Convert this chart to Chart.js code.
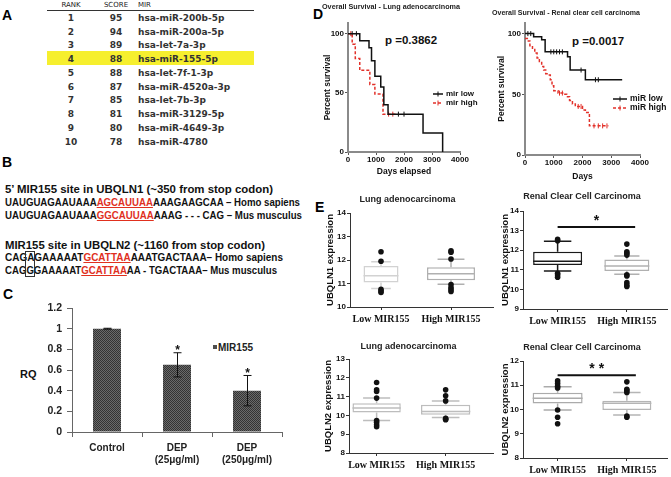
<!DOCTYPE html>
<html><head><meta charset="utf-8">
<script src="https://cdn.jsdelivr.net/npm/chart.js@4.4.1/dist/chart.umd.min.js"></script>
<style>
html,body{margin:0;padding:0;background:#fff;}
body{width:671px;height:477px;position:relative;overflow:hidden;font-family:'Liberation Sans',Arial,sans-serif;}
.abs{position:absolute;white-space:nowrap;line-height:1;}
canvas{position:absolute;}
.lab{position:absolute;font:bold 14px 'Liberation Sans',Arial,sans-serif;color:#000;line-height:1;}
.tb{position:absolute;font:bold 9px 'DejaVu Sans',Verdana,sans-serif;color:#333;white-space:nowrap;line-height:1;}
.th{position:absolute;font:7px 'DejaVu Sans',Verdana,sans-serif;color:#222;white-space:nowrap;line-height:1;}
.seq{position:absolute;left:5px;font:bold 11.5px 'Liberation Sans',Arial,sans-serif;color:#111;white-space:nowrap;line-height:1;transform-origin:0 50%;display:inline-block;}
.red{color:#e0301e;text-decoration:underline;text-decoration-color:#e0301e;}
.pv{position:absolute;font:bold 11.5px 'Liberation Sans',Arial,sans-serif;color:#111;line-height:1;white-space:nowrap;}
.lg{position:absolute;font:bold 8px 'Liberation Sans',Arial,sans-serif;color:#111;line-height:1;white-space:nowrap;}
</style></head><body>

<div class="lab" style="left:2px;top:8px">A</div>
<div class="lab" style="left:2px;top:155px">B</div>
<div class="lab" style="left:3px;top:287px">C</div>
<div class="lab" style="left:313px;top:7px">D</div>
<div class="lab" style="left:315px;top:200px">E</div>

<div id="tableA"></div>

<div class="seq" data-w="268" style="top:184.2px">5’ MIR155 site in UBQLN1 (~350 from stop codon)</div>
<div class="seq" data-w="295" style="top:197.2px">UAUGUAGAAUAAA<span class="red">AGCAUUAA</span>AAAGAAGCAA – Homo sapiens</div>
<div class="seq" data-w="297" style="top:210.2px">UAUGUAGAAUAAA<span class="red">GGCAUUAA</span>AAAG - - - CAG – Mus musculus</div>
<div class="seq" data-w="260" style="top:240.2px">MIR155 site in UBQLN2 (~1160 from stop codon)</div>
<div class="seq" data-w="278" style="top:252.2px">CAG<span id="bx1">A</span>GAAAAAT<span class="red">GCATTAA</span>AAATGACTAAA– Homo sapiens</div>
<div class="seq" data-w="272" style="top:265.2px">CAG<span id="bx2">G</span>GAAAAAT<span class="red">GCATTAA</span>AA - TGACTAAA– Mus musculus</div>

<div class="abs" style="left:20px;top:367.5px;font:bold 11px 'Liberation Sans',Arial,sans-serif;color:#111">RQ</div>
<div id="legC" class="abs" style="left:212.5px;top:344.8px;width:4.5px;height:4.5px;"></div>
<div class="abs" style="left:218px;top:342px;font:bold 10px 'Liberation Sans',Arial,sans-serif;color:#222">MIR155</div>

<div class="pv" style="left:385px;top:35px">p =0.3862</div>
<div class="pv" style="left:572px;top:36px">p =0.0017</div>

<script>
// ---------------- Panel A data ----------------
const ranks = [1, 2, 3, 4, 5, 6, 7, 8, 9, 10];
const scores = [95, 94, 89, 88, 88, 87, 85, 81, 80, 78];
const mirs = ['hsa-miR-200b-5p', 'hsa-miR-200a-5p', 'hsa-let-7a-3p', 'hsa-miR-155-5p', 'hsa-let-7f-1-3p',
              'hsa-miR-4520a-3p', 'hsa-let-7b-3p', 'hsa-miR-3129-5p', 'hsa-miR-4649-3p', 'hsa-miR-4780'];
const highlightRank = 4;

// ---------------- Panel C data ----------------
const rqCategories = ['Control', ['DEP', '(25μg/ml)'], ['DEP', '(250μg/ml)']];
const rqValues = [1.0, 0.65, 0.40];
const rqErrors = [0.004, 0.117, 0.147];
const rqSignif = ['', '*', '*'];
const rqTicks = [0, 0.2, 0.4, 0.6, 0.8, 1, 1.2];

// ---------------- Panel D data (Kaplan–Meier) ----------------
const lungLowT = [0, 420, 750, 840, 960, 1170, 1280, 1430, 2680, 3380];
const lungLowS = [100, 94, 88, 77, 64, 55, 40, 32, 16, 0];
const lungLowCensT = [150, 300, 1800, 2000];
const lungLowCensS = [100, 100, 32, 32];
const lungHighT = [0, 150, 260, 420, 780, 960, 1250, 1750];
const lungHighS = [100, 91, 79, 69, 57, 49, 32, 32];
const lungHighCensT = [100, 1450, 1600];
const lungHighCensS = [100, 32, 32];

const renalLowT = [0, 300, 580, 700, 1480, 1570, 2100, 3380];
const renalLowS = [100, 97.5, 95, 85, 81, 70, 62, 62];
const renalLowCensT = [100, 200, 900, 1000, 1100, 1200, 1300, 1950, 2450, 2550];
const renalLowCensS = [100, 100, 85, 85, 85, 85, 85, 70, 62, 62];
const renalHighT = [0, 80, 170, 260, 340, 420, 500, 580, 650, 720, 800, 880, 940, 1000, 1150, 1350, 1450, 1550, 1650, 1750, 2000, 2100, 2240, 2900];
const renalHighS = [96, 94, 90, 87, 84, 80, 77, 73, 70, 67, 66, 62, 57, 53, 51, 50, 48, 45, 42, 40, 37, 35, 24, 24];
const renalHighCensT = [1200, 1300, 1850, 1950, 2400, 2550, 2700, 2850];
const renalHighCensS = [51, 51, 40, 40, 24, 24, 24, 24];
const kmDayTicks = [0, 1000, 2000, 3000, 4000];
const kmPctTicks = [0, 50, 100];

// ---------------- Panel E data (box plots) ----------------
const boxGroups = ['Low MIR155', 'High MIR155'];
// Lung adenocarcinoma, UBQLN1
const lungN1Q1 = [11.04, 11.14], lungN1Med = [11.33, 11.41], lungN1Q3 = [11.74, 11.69];
const lungN1WLo = [10.79, 10.97], lungN1WHi = [11.93, 12.03];
const lungN1OutLow = [12.35, 11.95, 10.75, 10.68, 10.62];
const lungN1OutHigh = [12.39, 12.33, 12.04, 10.96, 10.83, 10.74, 10.66];
// Renal clear cell carcinoma, UBQLN1
const renalN1Q1 = [11.25, 10.94], renalN1Med = [11.43, 11.2], renalN1Q3 = [11.92, 11.53];
const renalN1WLo = [10.94, 10.77], renalN1WHi = [12.46, 11.7];
const renalN1OutLow = [12.55, 12.48, 10.82, 10.74, 10.62];
const renalN1OutHigh = [12.31, 11.92, 11.84, 11.75, 10.74, 10.69, 10.35, 10.23, 10.15];
// Lung adenocarcinoma, UBQLN2
const lungN2Q1 = [10.16, 10.03], lungN2Med = [10.39, 10.21], lungN2Q3 = [10.65, 10.56];
const lungN2WLo = [9.73, 9.89], lungN2WHi = [10.92, 10.77];
const lungN2OutLow = [11.75, 11.36, 11.27, 10.92, 9.73, 9.63, 9.5, 9.4];
const lungN2OutHigh = [11.36, 11.04, 10.77, 9.85, 9.8, 9.77];
// Renal clear cell carcinoma, UBQLN2
const renalN2Q1 = [10.25, 9.98], renalN2Med = [10.46, 10.26], renalN2Q3 = [10.69, 10.36];
const renalN2WLo = [9.98, 9.77], renalN2WHi = [10.94, 10.7];
const renalN2OutLow = [11.18, 11.07, 10.96, 10.89, 9.98, 9.68, 9.41];
const renalN2OutHigh = [11.14, 10.83, 10.77, 10.7, 9.73, 9.68];

// ================= Panel A: table =================
(function(){
  const t = document.getElementById('tableA');
  let h = '';
  const hi = ranks.indexOf(highlightRank);
  h += '<div class="abs" style="left:46.7px;top:' + (50.7 + (hi - 3) * 13.78).toFixed(1) + 'px;width:207.5px;height:14.3px;background:#f6ef2e"></div>';
  h += '<div class="th" style="left:51px;width:40px;text-align:center;top:1.5px">RANK</div>';
  h += '<div class="th" style="left:96px;width:40px;text-align:center;top:1.5px">SCORE</div>';
  h += '<div class="th" style="left:138px;top:1.5px">MIR</div>';
  h += '<div class="abs" style="left:46.7px;top:10px;width:207.5px;height:1px;background:#333"></div>';
  ranks.forEach((r, i) => {
    const cy = 18.3 + i * 13.78;
    const top = (cy - 4.6).toFixed(1);
    h += '<div class="tb" style="left:51px;width:40px;text-align:center;top:' + top + 'px">' + r + '</div>';
    h += '<div class="tb" style="left:96px;width:40px;text-align:center;top:' + top + 'px">' + scores[i] + '</div>';
    h += '<div class="tb" style="left:138px;top:' + top + 'px">' + mirs[i] + '</div>';
  });
  t.innerHTML = h;
})();

// ================= Panel B: fit sequence lines =================
document.querySelectorAll('.seq').forEach(el => {
  const w = parseFloat(el.dataset.w);
  const cur = el.getBoundingClientRect().width;
  el.style.transform = 'scaleX(' + (w / cur).toFixed(4) + ')';
});
(function(){
  const a = document.getElementById('bx1').getBoundingClientRect();
  const b = document.getElementById('bx2').getBoundingClientRect();
  const d = document.createElement('div');
  const l = Math.min(a.left, b.left) - 1, r = Math.max(a.right, b.right) + 1;
  d.style.cssText = 'position:absolute;border:1px solid #333;left:' + l.toFixed(1) + 'px;top:' + (a.top - 0.5).toFixed(1) + 'px;width:' + (r - l - 2).toFixed(1) + 'px;height:' + (b.bottom - a.top - 1).toFixed(1) + 'px;';
  document.body.appendChild(d);
})();

// ================= Chart helpers =================
Chart.defaults.font.family = "'Liberation Sans', Arial, sans-serif";
Chart.defaults.color = '#1a1a1a';
Chart.defaults.animation = false;
Chart.defaults.events = [];
Chart.defaults.responsive = false;
Chart.defaults.plugins.legend.display = false;
Chart.defaults.plugins.tooltip.enabled = false;

function mkCanvas(left, top, w, h){
  const c = document.createElement('canvas');
  c.width = w; c.height = h;
  c.style.left = left + 'px'; c.style.top = top + 'px';
  c.style.width = w + 'px'; c.style.height = h + 'px';
  document.body.appendChild(c);
  return c;
}
function checker(){
  const c = document.createElement('canvas'); c.width = c.height = 2;
  const g = c.getContext('2d');
  g.fillStyle = '#6a6a6a'; g.fillRect(0, 0, 2, 2);
  g.fillStyle = '#333333'; g.fillRect(0, 0, 1, 1); g.fillRect(1, 1, 1, 1);
  return g.createPattern(c, 'repeat');
}
const pat = checker();
document.getElementById('legC').style.background = '#4d4d4d';
const plainNum = v => String(Math.round(v * 100) / 100);

// ================= Panel C: bar chart =================
(function(){
  const cv = mkCanvas(10, 290, 300, 187);
  const errPlugin = {
    id: 'errbars',
    afterDatasetsDraw(chart){
      const ctx = chart.ctx, ys = chart.scales.y, meta = chart.getDatasetMeta(0);
      ctx.save();
      ctx.strokeStyle = '#111'; ctx.lineWidth = 1;
      meta.data.forEach((bar, i) => {
        const x = Math.round(bar.x) + 0.5;
        const yt = ys.getPixelForValue(rqValues[i] + rqErrors[i]);
        const yb = ys.getPixelForValue(rqValues[i] - rqErrors[i]);
        ctx.beginPath();
        ctx.moveTo(x, yt); ctx.lineTo(x, yb);
        ctx.moveTo(x - 4, yt); ctx.lineTo(x + 4, yt);
        ctx.moveTo(x - 4, yb); ctx.lineTo(x + 4, yb);
        ctx.stroke();
        if (rqSignif[i]) {
          ctx.fillStyle = '#111';
          ctx.font = "bold 12px 'Liberation Sans', Arial, sans-serif";
          ctx.textAlign = 'center'; ctx.textBaseline = 'middle';
          ctx.fillText(rqSignif[i], x, yt - 2);
        }
      });
      ctx.restore();
    }
  };
  new Chart(cv, {
    type: 'bar',
    data: { labels: rqCategories, datasets: [{ data: rqValues, backgroundColor: pat, borderWidth: 0, barPercentage: 0.4, categoryPercentage: 1 }] },
    options: {
      layout: { padding: { top: 18, right: 28, left: 0, bottom: 0 } },
      scales: {
        x: {
          grid: { drawOnChartArea: false, tickLength: 5, color: '#666', offset: true },
          border: { color: '#666', width: 1 },
          ticks: { font: { size: 10, weight: 'bold' }, color: '#222', padding: 5, maxRotation: 0, autoSkip: false },
          afterFit: s => { s.height = 45; }
        },
        y: {
          min: 0, max: 1.2,
          afterBuildTicks: s => { s.ticks = rqTicks.map(v => ({ value: v })); },
          grid: { drawOnChartArea: false, tickLength: 5, color: '#666' },
          border: { color: '#666', width: 1 },
          ticks: { font: { size: 10.5, weight: 'bold' }, color: '#222', padding: 5, callback: plainNum },
          afterFit: s => { s.width = 62; }
        }
      }
    },
    plugins: [errPlugin]
  });
})();

// ================= Panel D: KM curves =================
function kmChart(cv, o){
  const pts = (T, S) => T.map((t, i) => ({ x: t, y: S[i] }));
  const ds = [
    { type: 'line', data: pts(o.lowT, o.lowS), stepped: true, borderColor: '#111', borderWidth: 1.5, pointRadius: 0, fill: false },
    { type: 'line', data: pts(o.highT, o.highS), stepped: true, borderColor: '#e2312a', borderDash: [3, 2], borderWidth: 1.5, pointRadius: 0, fill: false },
    { type: 'scatter', data: pts(o.lowCT, o.lowCS), pointStyle: 'line', pointRotation: 90, pointRadius: 2.5, pointBorderColor: '#111', pointBorderWidth: 1 },
    { type: 'scatter', data: pts(o.highCT, o.highCS), pointStyle: 'line', pointRotation: 90, pointRadius: 2.5, pointBorderColor: '#e2312a', pointBorderWidth: 1 }
  ];
  return new Chart(cv, {
    type: 'line',
    data: { datasets: ds },
    options: {
      layout: { padding: { top: 0, left: 0, right: o.padR, bottom: 0 } },
      plugins: { title: { display: true, text: o.title, font: { size: 7.5, weight: 'bold' }, color: '#222', padding: { top: o.tpt, bottom: o.tpb } } },
      scales: {
        x: {
          type: 'linear', min: 0, max: 4000, offset: false,
          afterBuildTicks: s => { s.ticks = kmDayTicks.map(v => ({ value: v })); },
          ticks: { font: { size: 8, weight: 'bold' }, color: '#111', padding: 0, maxRotation: 0, callback: plainNum },
          grid: { drawOnChartArea: false, tickLength: 3, color: '#555' },
          border: { color: '#8a8a8a', width: 2 },
          title: { display: true, text: o.xTitle, font: { size: 8.5, weight: 'bold' }, color: '#111', padding: { top: 0, bottom: o.xtb } },
          afterFit: s => { s.height = o.xh; }
        },
        y: {
          min: 0, max: 109,
          afterBuildTicks: s => { s.ticks = kmPctTicks.map(v => ({ value: v })); },
          ticks: { font: { size: 8, weight: 'bold' }, color: '#111', padding: 1, callback: plainNum },
          grid: { drawOnChartArea: false, tickLength: 3, color: '#555' },
          border: { color: '#8a8a8a', width: 2 },
          title: { display: true, text: 'Percent survival', font: { size: 8.5, weight: 'bold' }, color: '#111', padding: { top: o.ytp, bottom: 0 } },
          afterFit: s => { s.width = o.yw; }
        }
      }
    }
  });
}
kmChart(mkCanvas(322, 0, 168, 180), {
  title: 'Overall Survival - Lung adenocarcinoma', xTitle: 'Days elapsed',
  lowT: lungLowT, lowS: lungLowS, highT: lungHighT, highS: lungHighS,
  lowCT: lungLowCensT, lowCS: lungLowCensS, highCT: lungHighCensT, highCS: lungHighCensS,
  padR: 30, tpt: 2.5, tpb: 11.5, xh: 28, xtb: 3.3, yw: 26, ytp: 1
});
kmChart(mkCanvas(492, 0, 179, 185), {
  title: 'Overall Survival - Renal clear cell carcinoma', xTitle: 'Days',
  lowT: renalLowT, lowS: renalLowS, highT: renalHighT, highS: renalHighS,
  lowCT: renalLowCensT, lowCS: renalLowCensS, highCT: renalHighCensT, highCS: renalHighCensS,
  padR: 31, tpt: 8.5, tpb: 5.2, xh: 30, xtb: 3.3, yw: 33, ytp: 5
});

// KM legends
function kmLegend(x, y, len, label, color, dashed, fs){
  const s = document.createElement('div');
  s.className = 'lg';
  s.style.left = x + 'px'; s.style.top = (y - 4) + 'px';
  s.style.fontSize = fs + 'px';
  s.innerHTML = '<svg width="' + len + '" height="8" style="vertical-align:middle;margin-right:3px"><line x1="0" y1="4" x2="' + len + '" y2="4" stroke="' + color + '" stroke-width="1.5"' + (dashed ? ' stroke-dasharray="3,2"' : '') + '/><line x1="' + (len / 2) + '" y1="1.5" x2="' + (len / 2) + '" y2="6.5" stroke="' + color + '" stroke-width="1"/></svg>' + label;
  document.body.appendChild(s);
}
kmLegend(433, 94.3, 10, 'mir low', '#111', false, 8);
kmLegend(433, 102.8, 10, 'mir high', '#e2312a', true, 8);
kmLegend(613, 98.3, 14, 'miR low', '#111', false, 8.5);
kmLegend(613, 107.3, 14, 'miR high', '#e2312a', true, 8.5);

// ================= Panel E: box plots =================
function boxChart(cv, o){
  const unit = o.areaW / (o.xMax - o.xMin);
  const ds = o.q1.map((q, i) => ({
    type: 'bar', data: [{ x: i, y: [o.q1[i], o.q3[i]] }],
    backgroundColor: '#fff', borderColor: o.colors[i], borderWidth: 1.5, borderSkipped: false,
    grouped: false, barPercentage: o.widths[i] / unit, categoryPercentage: 1
  }));
  ds.push({
    type: 'scatter',
    data: o.outs.flatMap((arr, i) => arr.map(v => ({ x: i, y: v }))),
    pointRadius: 2.8, pointBackgroundColor: '#111', pointBorderWidth: 0
  });
  const plug = {
    id: 'boxparts',
    beforeDatasetsDraw(chart){
      const ctx = chart.ctx, ys = chart.scales.y;
      ctx.save();
      o.q1.forEach((q, i) => {
        const bar = chart.getDatasetMeta(i).data[0];
        const cx = bar.x, cw = bar.width * 0.28;
        ctx.strokeStyle = o.colors[i]; ctx.lineWidth = 1.5;
        const yq1 = ys.getPixelForValue(o.q1[i]), yq3 = ys.getPixelForValue(o.q3[i]);
        const ylo = ys.getPixelForValue(o.wlo[i]), yhi = ys.getPixelForValue(o.whi[i]);
        ctx.beginPath();
        ctx.moveTo(cx, yq3); ctx.lineTo(cx, yhi);
        ctx.moveTo(cx - cw, yhi); ctx.lineTo(cx + cw, yhi);
        ctx.moveTo(cx, yq1); ctx.lineTo(cx, ylo);
        ctx.moveTo(cx - cw, ylo); ctx.lineTo(cx + cw, ylo);
        ctx.stroke();
      });
      ctx.restore();
    },
    afterDatasetsDraw(chart){
      const ctx = chart.ctx, ys = chart.scales.y, xs = chart.scales.x;
      ctx.save();
      o.q1.forEach((q, i) => {
        const bar = chart.getDatasetMeta(i).data[0];
        const hw = bar.width / 2;
        const ym = ys.getPixelForValue(o.med[i]);
        ctx.strokeStyle = o.colors[i]; ctx.lineWidth = 1.5;
        ctx.beginPath(); ctx.moveTo(bar.x - hw, ym); ctx.lineTo(bar.x + hw, ym); ctx.stroke();
      });
      if (o.sig) {
        const x1 = xs.getPixelForValue(o.sig.from), x2 = xs.getPixelForValue(o.sig.to);
        const y = ys.getPixelForValue(o.sig.level);
        ctx.strokeStyle = '#111'; ctx.lineWidth = 2;
        ctx.beginPath(); ctx.moveTo(x1, y); ctx.lineTo(x2, y); ctx.stroke();
        ctx.fillStyle = '#111';
        ctx.font = "bold 14px 'Liberation Sans', Arial, sans-serif";
        ctx.textAlign = 'center'; ctx.textBaseline = 'middle';
        ctx.fillText(o.sig.text, (x1 + x2) / 2, y - 6);
      }
      ctx.restore();
    }
  };
  return new Chart(cv, {
    type: 'bar',
    data: { datasets: ds },
    options: {
      layout: { padding: { top: 0, left: 0, right: o.padR, bottom: 0 } },
      plugins: { title: { display: true, text: o.title, font: { size: 9, weight: 'bold' }, color: '#222', padding: { top: o.tpt, bottom: o.tpb } } },
      scales: {
        x: {
          type: 'linear', min: o.xMin, max: o.xMax, offset: false,
          afterBuildTicks: s => { s.ticks = [{ value: 0 }, { value: 1 }]; },
          ticks: { callback: v => boxGroups[v], font: { family: "'Liberation Serif', 'Times New Roman', serif", size: 10, weight: 'bold' }, color: '#111', padding: 3, maxRotation: 0, autoSkip: false },
          grid: { drawOnChartArea: false, tickLength: 3, color: '#333', offset: false },
          border: { color: '#333', width: 1 },
          afterFit: s => { s.height = o.xh; }
        },
        y: {
          min: o.yMin, max: o.yMax,
          ticks: { stepSize: 1, font: { size: 8, weight: 'bold' }, color: '#111', padding: 1 },
          grid: { drawOnChartArea: false, tickLength: 3, color: '#333' },
          border: { color: '#333', width: 1 },
          title: { display: true, text: o.yTitle, font: { size: 9.5, weight: 'bold' }, color: '#111', padding: { top: o.ytp, bottom: 0 } },
          afterFit: s => { s.width = o.yw; }
        }
      }
    },
    plugins: [plug]
  });
}

boxChart(mkCanvas(322, 192, 175, 138), {
  title: 'Lung adenocarcinoma', yTitle: 'UBQLN1 expression',
  q1: lungN1Q1, med: lungN1Med, q3: lungN1Q3, wlo: lungN1WLo, whi: lungN1WHi, outs: [lungN1OutLow, lungN1OutHigh],
  colors: ['#d2d2d2', '#b0b0b0'], widths: [35, 48],
  yMin: 10, yMax: 14, xMin: -0.443, xMax: 1.6, areaW: 143,
  padR: 4, tpt: 2, tpb: 8.2, xh: 23, yw: 28, ytp: 2.3
});
boxChart(mkCanvas(497, 188, 174, 147), {
  title: 'Renal Clear Cell Carcinoma', yTitle: 'UBQLN1 expression',
  q1: renalN1Q1, med: renalN1Med, q3: renalN1Q3, wlo: renalN1WLo, whi: renalN1WHi, outs: [renalN1OutLow, renalN1OutHigh],
  colors: ['#1a1a1a', '#b0b0b0'], widths: [49, 45],
  yMin: 9, yMax: 14, xMin: -0.5, xMax: 1.58, areaW: 144,
  sig: { from: 0, to: 1.12, level: 13.19, text: '*' },
  padR: 4, tpt: 3.6, tpb: 8.6, xh: 26, yw: 26, ytp: 2.3
});
boxChart(mkCanvas(322, 338, 175, 139), {
  title: 'Lung adenocarcinoma', yTitle: 'UBQLN2 expression',
  q1: lungN2Q1, med: lungN2Med, q3: lungN2Q3, wlo: lungN2WLo, whi: lungN2WHi, outs: [lungN2OutLow, lungN2OutHigh],
  colors: ['#bdbdbd', '#bdbdbd'], widths: [49, 50],
  yMin: 8, yMax: 13, xMin: -0.4, xMax: 1.686, areaW: 146,
  padR: 2, tpt: 3.6, tpb: 6.6, xh: 24, yw: 27, ytp: 0.3
});
boxChart(mkCanvas(497, 338, 174, 139), {
  title: 'Renal Clear Cell Carcinoma', yTitle: 'UBQLN2 expression',
  q1: renalN2Q1, med: renalN2Med, q3: renalN2Q3, wlo: renalN2WLo, whi: renalN2WHi, outs: [renalN2OutLow, renalN2OutHigh],
  colors: ['#ababab', '#b5b5b5'], widths: [50, 49],
  yMin: 8, yMax: 12, xMin: -0.5, xMax: 1.58, areaW: 144,
  sig: { from: 0, to: 1.13, level: 11.41, text: '* *' },
  padR: 4, tpt: 4.6, tpb: 7.6, xh: 19, yw: 26, ytp: 2.3
});
</script>
</body></html>
